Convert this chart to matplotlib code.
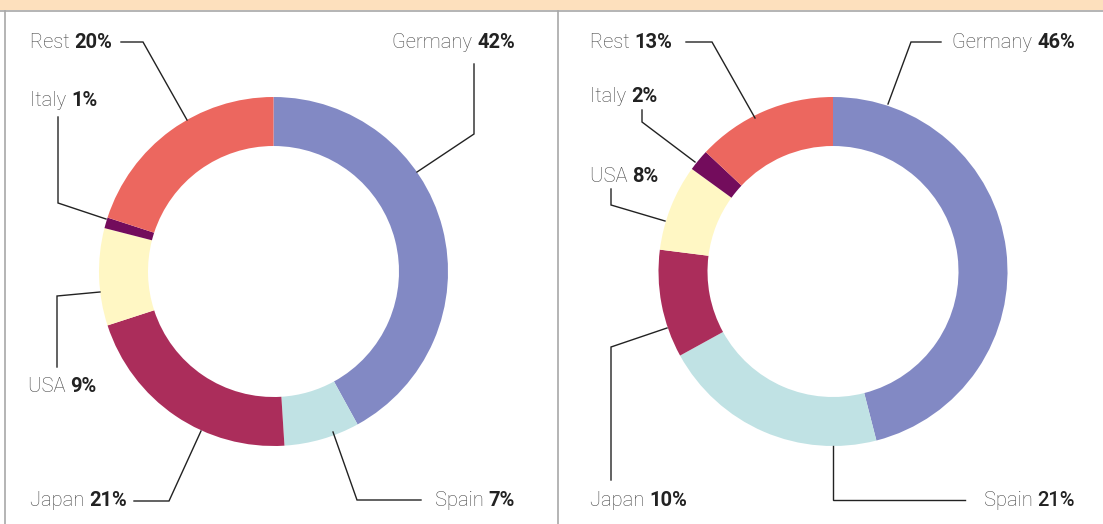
import matplotlib
matplotlib.use('Agg')
import matplotlib.pyplot as plt
from matplotlib.patches import Rectangle

# data, clockwise from 12 o'clock
countries = ['Germany', 'Spain', 'Japan', 'USA', 'Italy', 'Rest']
share_left = [42, 7, 21, 9, 1, 20]
share_right = [46, 21, 10, 8, 2, 13]
colors = ['#8289c4', '#c0e2e4', '#ab2d5b', '#fff7c4', '#730c5c', '#ec675f']

W, H = 1103, 524

# layout in image pixels (y measured from top)
panels = [
    {
        'values': share_left, 'center': (273.5, 271.5),
        'labels': {
            'Germany': (515, 42, 'right', [(474, 64), (474, 134), (417, 172)]),
            'Spain': (515, 501, 'right', [(421, 500), (357, 500), (333, 432)]),
            'Japan': (30, 501, 'left', [(134, 501), (169, 501), (201, 431)]),
            'USA': (28, 386, 'left', [(57, 367), (57, 296), (100, 292)]),
            'Italy': (30, 101, 'left', [(58, 117), (58, 203), (106, 219)]),
            'Rest': (30, 42, 'left', [(121, 42), (143, 42), (187, 120)]),
        },
    },
    {
        'values': share_right, 'center': (833, 271.5),
        'labels': {
            'Germany': (1075, 42, 'right', [(941, 42), (911, 42), (888, 104)]),
            'Spain': (1075, 501, 'right', [(965, 500), (833, 500), (833, 446)]),
            'Japan': (590, 501, 'left', [(611, 480), (611, 347), (667, 328)]),
            'USA': (590, 176, 'left', [(611, 189), (611, 205), (665, 221)]),
            'Italy': (590, 97, 'left', [(642, 110), (642, 122), (695, 162)]),
            'Rest': (590, 42, 'left', [(686, 42), (712, 42), (755, 118)]),
        },
        'lighter': ['Spain'],
    },
]

fig = plt.figure(figsize=(W / 100, H / 100), dpi=100)
ax = fig.add_axes([0, 0, 1, 1])

for p in panels:
    cx, cy = p['center']
    ax.pie(p['values'], colors=colors, center=(cx, H - cy), radius=174.5,
           startangle=90, counterclock=False,
           wedgeprops=dict(width=49, linewidth=0))

ax.set_xlim(0, W)
ax.set_ylim(0, H)
ax.set_aspect('auto')
ax.axis('off')

# frame: peach band on top, grey borders
ax.add_patch(Rectangle((0, H - 10), W, 10, facecolor='#fde0bd', edgecolor='none'))
ax.plot([0, W], [H - 10.5, H - 10.5], color='#a8a8a8', lw=1.2)
ax.plot([4.5, 4.5], [0, H - 10.5], color='#a8a8a8', lw=1.2)
ax.plot([558, 558], [0, H - 10.5], color='#a8a8a8', lw=1.2)

fig.canvas.draw()
renderer = fig.canvas.get_renderer()
fs = 14.5
name_font = dict(family='Roboto', weight='light', color='#444444', fontsize=fs)

for p in panels:
    for name, val in zip(countries, p['values']):
        tx, ty, side, path = p['labels'][name]
        y = H - ty
        xs = [pt[0] for pt in path]
        ys = [H - pt[1] for pt in path]
        ax.plot(xs, ys, color='#222222', lw=1.0, solid_joinstyle='miter')
        weight = 'medium' if name in p.get('lighter', []) else 'bold'
        val_font = dict(family='Roboto', weight=weight, color='#222222', fontsize=fs)
        vtxt = f'{val}%'
        if side == 'left':
            t1 = ax.text(tx, y, name + ' ', ha='left', va='center', **name_font)
            w1 = t1.get_window_extent(renderer).width
            ax.text(tx + w1, y, vtxt, ha='left', va='center', **val_font)
        else:
            t2 = ax.text(tx, y, vtxt, ha='right', va='center', **val_font)
            w2 = t2.get_window_extent(renderer).width
            ax.text(tx - w2, y, name + ' ', ha='right', va='center', **name_font)

fig.savefig('out.png', dpi=100)
